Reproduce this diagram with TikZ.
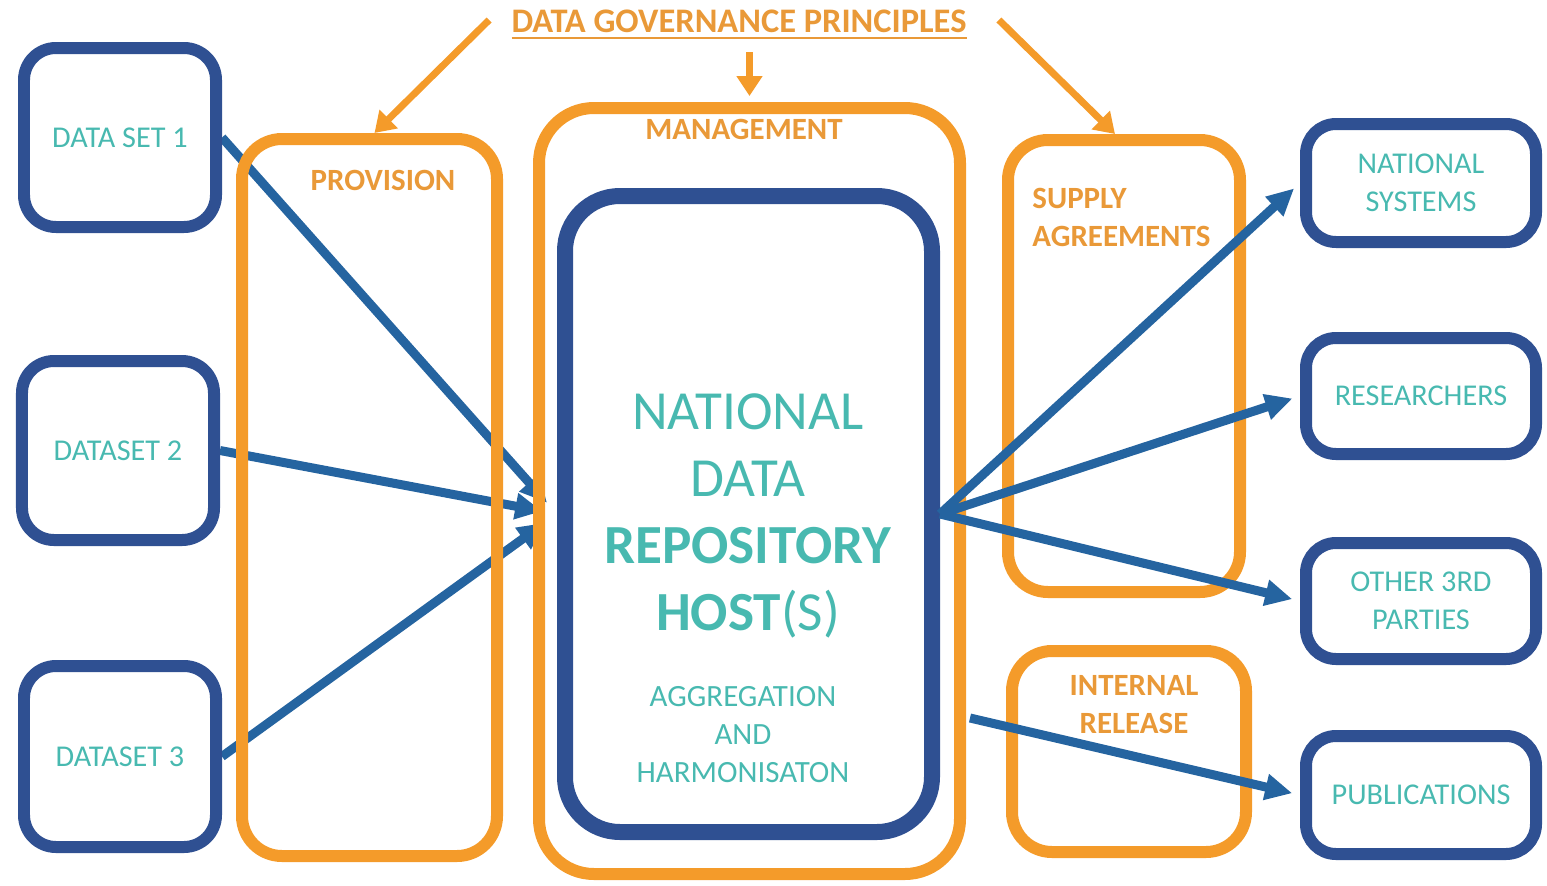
\documentclass[tikz,border=0pt]{standalone}
\usepackage{fontspec}
\setmainfont{Carlito}
\usetikzlibrary{arrows.meta}

\definecolor{govOrange}{RGB}{244,155,42}
\definecolor{govText}{RGB}{233,153,56}
\definecolor{hostNavy}{RGB}{47,80,146}
\definecolor{flowBlue}{RGB}{37,100,160}
\definecolor{labelTeal}{RGB}{72,185,176}

\pgfdeclarelayer{background}
\pgfsetlayers{background,main}

\tikzset{
  dataBox/.style={draw=hostNavy, line width=0.12cm, rounded corners=0.32cm,
    minimum width=1.92cm, inner sep=0pt, text=labelTeal,
    font=\fontsize{8.6}{10.8}\selectfont, align=center},
  useBox/.style={dataBox, minimum width=2.30cm, rounded corners=0.3cm},
  ruleBox/.style={draw=govOrange, line width=0.12cm, rounded corners=0.4cm, inner sep=0pt},
  ruleText/.style={text=govText, font=\bfseries\fontsize{8.8}{10.8}\selectfont, align=center},
  flow/.style={draw=flowBlue, line width=0.09cm, -{Triangle[length=0.27cm,width=0.25cm]}},
  ruleArrow/.style={draw=govOrange, line width=0.07cm, -{Triangle[length=0.2cm,width=0.25cm]}},
}

\begin{document}
\begin{tikzpicture}
    \useasboundingbox (0,0) rectangle (15.47,8.85);

    % Datasets
    \node[dataBox, minimum height=1.79cm] (ds1) at (1.20,7.475) {DATA SET 1};
    \node[dataBox, minimum height=1.79cm] (ds2) at (1.18,4.345) {DATASET 2};
    \node[dataBox, minimum height=1.81cm] (ds3) at (1.20,1.285) {DATASET 3};

    % Governance boxes
    \node[ruleBox, minimum width=2.55cm, minimum height=7.17cm] (prov) at (3.695,3.875) {};
    \node[ruleBox, minimum width=4.21cm, minimum height=7.66cm, rounded corners=0.55cm] (mgmt) at (7.495,3.94) {};
    \node[ruleBox, minimum width=2.32cm, minimum height=4.52cm] (supply) at (11.24,5.19) {};
    \node[ruleBox, minimum width=2.34cm, minimum height=2.01cm] (internal) at (11.29,1.335) {};

    \node[ruleText] (provLabel) at (3.83,7.05) {PROVISION};
    \node[ruleText] (mgmtLabel) at (7.44,7.56) {MANAGEMENT};
    \node[ruleText, anchor=west, align=left] (supplyLabel) at (10.20,6.68) {SUPPLY\\AGREEMENTS};
    \node[ruleText] (internalLabel) at (11.34,1.80) {INTERNAL\\RELEASE};

    % Repository
    \node[draw=hostNavy, line width=0.16cm, rounded corners=0.55cm, minimum width=3.67cm,
      minimum height=6.36cm] (repo) at (7.485,3.71) {};
    \node[text=labelTeal, align=center, font=\fontsize{15.7}{19.1}\selectfont] (hostText) at (7.48,3.69)
      {NATIONAL\\DATA\\\textbf{REPOSITORY}\\\textbf{HOST}(S)};
    \node[text=labelTeal, align=center, font=\fontsize{8.8}{10.8}\selectfont] (hostSub) at (7.43,1.50)
      {AGGREGATION\\AND\\HARMONISATON};

    % Users
    \node[useBox, minimum height=1.18cm] (natsys) at (14.21,7.02) {NATIONAL\\SYSTEMS};
    \node[useBox, minimum height=1.16cm] (research) at (14.21,4.89) {RESEARCHERS};
    \node[useBox, minimum height=1.16cm] (other) at (14.21,2.84) {OTHER 3RD\\PARTIES};
    \node[useBox, minimum height=1.18cm] (publ) at (14.21,0.90) {PUBLICATIONS};

    % Principles
    \node[text=govText, font=\bfseries\fontsize{9.8}{12}\selectfont] (title) at (7.39,8.60)
      {\underline{DATA GOVERNANCE PRINCIPLES}};
    \draw[ruleArrow] ([xshift=-1mm,yshift=0.5mm]title.west) -- ([xshift=0.5mm]prov.north);
    \draw[ruleArrow] (title.south -| mgmt.north) -- ([yshift=0.6mm]mgmt.north);
    \draw[ruleArrow] ([xshift=2mm,yshift=0.5mm]title.east) -- ([xshift=-0.9mm]supply.north);

    % Inflow
    \begin{pgfonlayer}{background}
      \draw[flow, shorten >=0.15cm] (ds1.east) -- (repo.west);
      \draw[flow, shorten >=0.15cm] (ds2.east) -- (repo.west);
      \draw[flow, shorten >=0.15cm] (ds3.east) -- (repo.west);
    \end{pgfonlayer}

    % Outflow
    \coordinate (pubStart) at (9.70,1.67);
    \draw[flow, shorten >=0.08cm] (repo.east) -- (natsys.west);
    \draw[flow, shorten >=0.08cm] (repo.east) -- (research.west);
    \draw[flow, shorten >=0.08cm] (repo.east) -- (other.west);
    \draw[flow, shorten >=0.08cm] (pubStart) -- (publ.west);
\end{tikzpicture}
\end{document}
